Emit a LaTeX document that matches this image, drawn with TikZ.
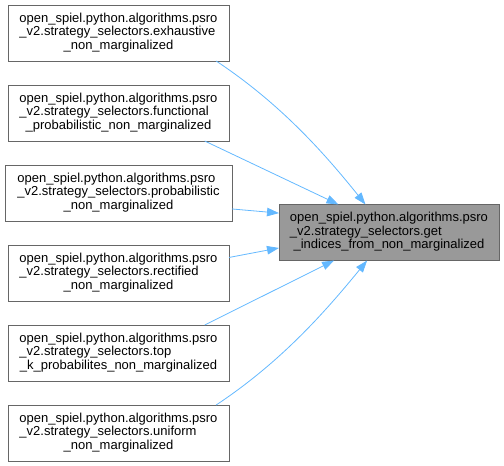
\documentclass[tikz,border=0pt]{standalone}
\usepackage{fontspec}
\setmainfont{Liberation Sans}
\usetikzlibrary{arrows.meta}
\definecolor{edgeblue}{RGB}{99,184,255}
\definecolor{bordergray}{HTML}{666666}
\definecolor{fillgray}{HTML}{999999}
\newcommand\tlines[3]{\raisebox{-3.5pt}{\begin{tabular}{@{}l@{}}#1\\#2\\\multicolumn{1}{@{}c@{}}{#3}\end{tabular}}}
\begin{document}
\begin{tikzpicture}[x=1pt,y=-1pt,
  box/.style={draw=bordergray, fill=white, line width=0.9pt, minimum height=56pt,
    minimum width=221pt, inner sep=0pt, outer sep=0pt,
    font=\fontsize{13}{13.33}\selectfont},
  focus/.style={box, fill=fillgray, minimum width=220pt},
  edge/.style={draw=edgeblue, line width=0.8pt, -{Triangle[length=12pt,width=8.5pt]}}]
\useasboundingbox (0,0) rectangle (504,466);
\node[box] (b1) at (118.5,33) {\tlines{open\_spiel.python.algorithms.psro}{\_v2.strategy\_selectors.exhaustive}{\_non\_marginalized}};
\node[box] (b2) at (118.5,113) {\tlines{open\_spiel.python.algorithms.psro}{\_v2.strategy\_selectors.functional}{\_probabilistic\_non\_marginalized}};
\node[box, minimum width=227pt] (b3) at (118.5,193) {\tlines{open\_spiel.python.algorithms.psro}{\_v2.strategy\_selectors.probabilistic}{\_non\_marginalized}};
\node[box] (b4) at (118.5,273) {\tlines{open\_spiel.python.algorithms.psro}{\_v2.strategy\_selectors.rectified}{\_non\_marginalized}};
\node[box] (b5) at (118.5,353) {\tlines{open\_spiel.python.algorithms.psro}{\_v2.strategy\_selectors.top}{\_k\_probabilites\_non\_marginalized}};
\node[box] (b6) at (118.5,433) {\tlines{open\_spiel.python.algorithms.psro}{\_v2.strategy\_selectors.uniform}{\_non\_marginalized}};
\node[focus] (g) at (389,232.5) {\tlines{open\_spiel.python.algorithms.psro}{\_v2.strategy\_selectors.get}{\_indices\_from\_non\_marginalized}};
\draw[edge] (b1.-16.8) .. controls (281,104) and (325,154) .. (g.130.1);
\draw[edge] (b2.-18.3) -- (g.151.3);
\draw[edge] (b3.-8.5) -- (g.170.5);
\draw[edge] (b4.8.2) -- (g.188);
\draw[edge] (b5.18.3) -- (g.207.8);
\draw[edge] (b6.16.8) .. controls (281,362) and (325,312) .. (g.232.3);
\end{tikzpicture}
\end{document}
